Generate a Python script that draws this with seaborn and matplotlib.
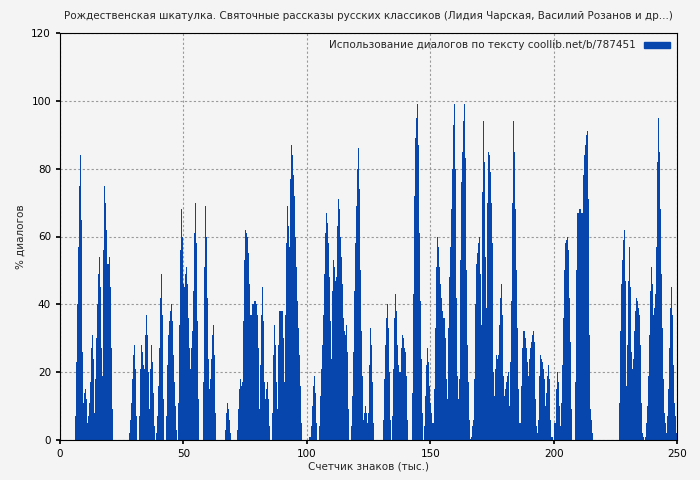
import numpy as np
import pandas as pd
import matplotlib
matplotlib.use("Agg")
import matplotlib.pyplot as plt
import seaborn as sns
from matplotlib.patches import Patch

z = lambda n: [0] * n
seg1 = [7,23,40,57,75,84,65,26,11,14,15,12,5,7,11,17,27,31,24,8,18,30,40,49,54,45,27,19,56,75,70,62,52,52,54,45,27,9] + z(16) + \
       [2,6,11,18,25,28,21,7] + z(2) + [7,21,28,26,22,21,31,37,31,20,9,21,28,23,14,4] + z(1) + \
       [2,7,16,27,42,49,37,12] + z(2) + [7,22,31,35,38,40,35,25,17,10,3] + z(1) + [11,34,56,68,60,46,45]
seg2 = [49,51,46,36,27,21,27,32,44,61,70,58,35,12] + z(4) + [17,51,69,60,42,24,15,18,24,31,34,25,8] + z(9) + \
       [3,8,11,9,6,2] + z(6) + [3,9,15,18,16,17,35,53,62,61,60,55,46,37,37,40,40,41,41,40,37,27,9,22,37,45,35,17,12,15,17,12,4] + z(2) + \
       [8,25,34,28,17,9,28,38,38,38,38,30,17,37,58,69,63,57,77,87,84,78,72,60,51,41,33,25,16,5] + z(6)
seg3 = z(1) + [1,1,4,10,16,19,14,5] + z(2) + [4,13,21,28,37,49,61,67,64,58,48,35,24,44,53,51,47,48,63,71,68,60,54,46,36,32,31,34,26,9] + z(2) + \
       [4,13,26,44,58,69,80,86,74,50,32,19,6,8,10,8,5,8,22,33,28,17,5] + z(9) + [6,18,28,36,40,33,20,6] + z(1) + \
       [7,21,36,43,38,28,22,20,20,27,31,30,27,26,19,6] + z(4) + [14,43,72,89,95,99,87,61,41,24,8] + z(1) + [4,13,22,27,23,16,11]
seg4 = [8,5,5,15,33,51,60,57,51,46,42,38,36,36,30,18,12,33,48,57,68,80,93,99,80,42,19,12,18,53,76,85,94,99,83,50,28,17,6,0.3,1,4,6,
        18,40,52,55,58,60,49,34,73,94,82,54,39,70,85,84,79,70,58,20,13,21,25,24,25,34,42,46,37,19,13,15,17,19,20,10,23,41,70,94,85,68,
        50,33,15,5,5,16,27,32,32,30,27,23,19,24,27,29,31,32,29,12,4,2,6,19,25,24,23,21,18,10,14,19,22,18,6,1,1] + z(1)
seg5 = [5,5,15,20,17,10,4,11,22,36,50,58,59,60,56,42,29,9] + z(3) + [17,50,67,67,68,68,67,67,78,84,87,90,91,71,31,9,6,2] + z(26) + \
       [11,32,46,53,59,62,47,16,28,47,57,45,26,21,24,32,38,42,41,39,37,28,11,2,1,0,1,5,10,19,31,44,51,46,37,39,43,57,82,95,85,68,
        49,33,18,8,5,2,7,15,27,39,45,37,22,11,7,2]

values = np.array(seg1 + seg2 + seg3 + seg4 + seg5, dtype=float)
step = 250 / 617
start = 15 / 2.468
n = len(values)
centers = start + step * (np.arange(n) + 0.5)
df = pd.DataFrame({"x": centers, "y": values})

sns.set_theme(style="white")
plt.rcParams['font.family'] = ['DejaVu Sans']
fig = plt.figure(figsize=(7, 4.8), dpi=100, facecolor="#f4f4f4")
ax = fig.add_axes([60/700, 40/480, 617/700, 407/480])
ax.set_facecolor("#f4f4f4")
blue = "#0646ad"
sns.histplot(data=df, x="x", weights="y", binwidth=step, binrange=(start, start + step * n),
             color=blue, alpha=1, linewidth=0, ax=ax)
ax.set_xlim(0, 250)
ax.set_ylim(0, 120)
ax.set_xticks([0, 50, 100, 150, 200, 250])
ax.set_yticks(range(0, 121, 20))
ax.grid(True, color="#999999", linestyle=(0, (2, 2)), linewidth=0.8)
ax.set_axisbelow(True)
for s in ax.spines.values():
    s.set_color("black"); s.set_linewidth(0.8)
ax.tick_params(labelsize=7.5, length=3, colors="black", left=True, bottom=True)
ax.set_xlabel("Счетчик знаков (тыс.)", fontsize=7.5, labelpad=2)
ax.set_ylabel("% диалогов", fontsize=7.5)
ax.set_title("Рождественская шкатулка. Святочные рассказы русских классиков (Лидия Чарская, Василий Розанов и др...)", fontsize=7.5, pad=10)
ax.legend(handles=[Patch(color=blue, label="Использование диалогов по тексту coollib.net/b/787451")],
          loc="upper right", fontsize=7.5, frameon=False, handlelength=2.5, handleheight=0.5, markerfirst=False,
          borderaxespad=0.3)
fig.savefig("out.png", dpi=100, facecolor=fig.get_facecolor())
